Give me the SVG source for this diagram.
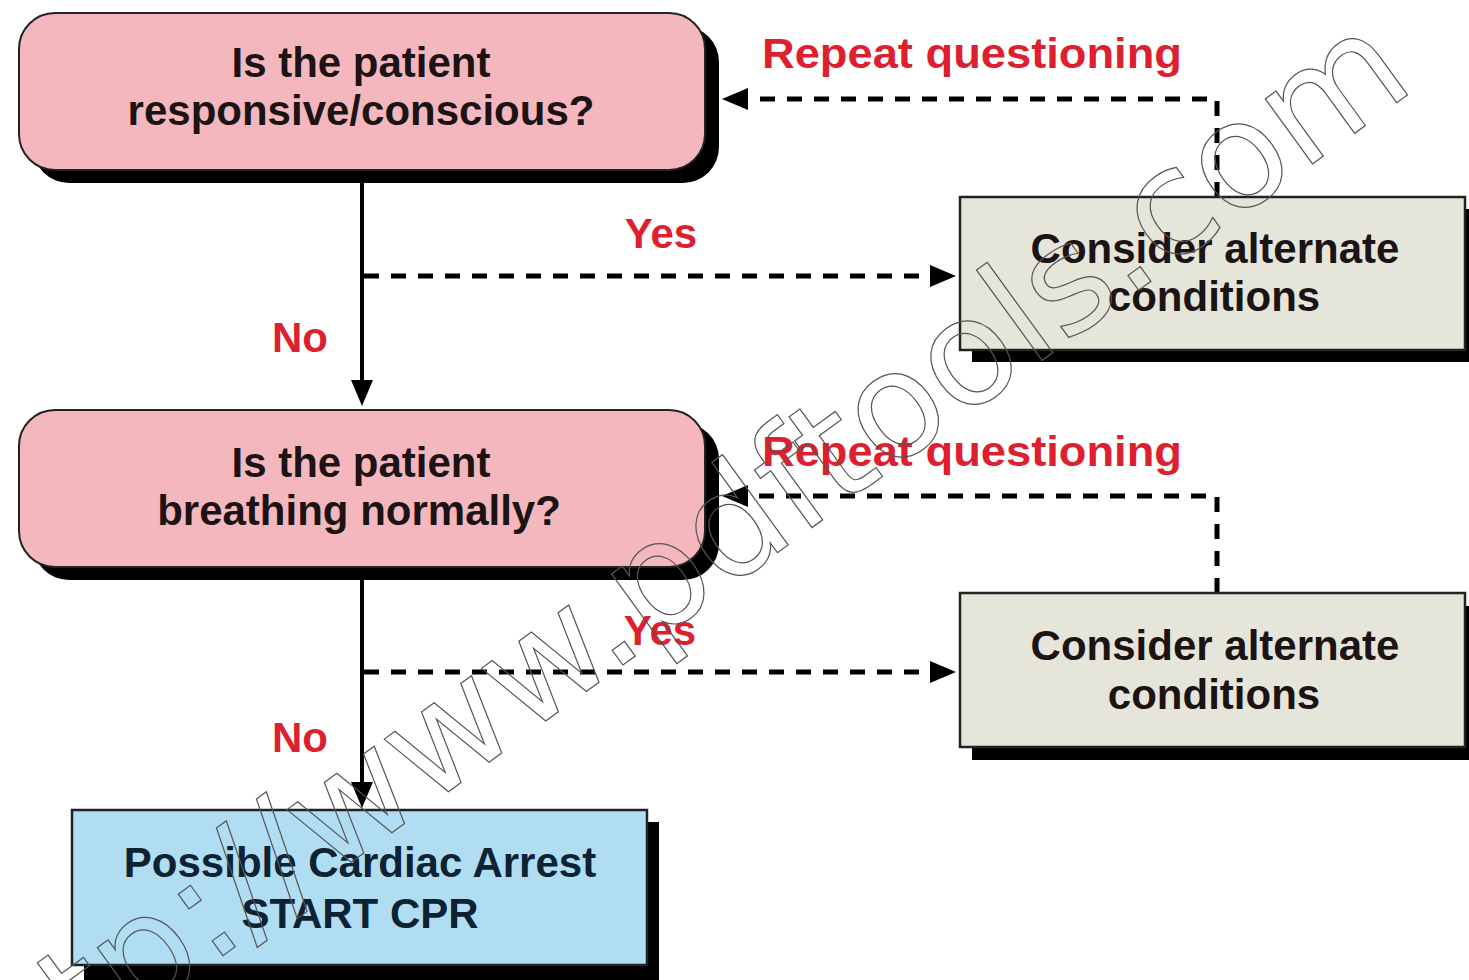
<svg xmlns="http://www.w3.org/2000/svg" width="1469" height="980" viewBox="0 0 1469 980">
<style>
.t{font-family:"Liberation Sans",Arial,sans-serif;font-weight:bold;font-size:42px;text-anchor:middle}
.dark{fill:#1c1414}
.navy{fill:#0d2233}
.red{fill:#de1f2f}
.shadow{fill:#000}
.pink{fill:#f4b7be;stroke:#222;stroke-width:2}
.gray{fill:#e5e5da;stroke:#222;stroke-width:2.5}
.blue{fill:#b0ddf2;stroke:#222;stroke-width:2.5}
.solid{fill:none;stroke:#000;stroke-width:4}
.dash{fill:none;stroke:#000;stroke-width:5;stroke-dasharray:15 12}
.wm{font-family:"DejaVu Sans",sans-serif;font-size:147px;fill:none;stroke:#555;stroke-width:1.2}
</style>
<defs>
<marker id="ah" viewBox="0 0 26 22" refX="0" refY="11" markerWidth="26" markerHeight="22" markerUnits="userSpaceOnUse" orient="auto">
<path d="M0,0 L26,11 L0,22 z" fill="#000"/>
</marker>
</defs>
<rect width="1469" height="980" fill="#fff"/>
<g id="connectors">
<path class="solid" d="M362,175 L362,380" marker-end="url(#ah)"/>
<path class="solid" d="M362,570 L362,782" marker-end="url(#ah)"/>
<path class="dash" d="M364,276 L930,276" marker-end="url(#ah)"/>
<path class="dash" d="M364,672 L930,672" marker-end="url(#ah)"/>
<path class="dash" d="M1217,197 L1217,99 L748,99" marker-end="url(#ah)"/>
<path class="dash" d="M1217,593 L1217,496 L748,496" marker-end="url(#ah)"/>
<text class="t red" x="972" y="68" textLength="420" lengthAdjust="spacingAndGlyphs">Repeat questioning</text>
<text class="t red" x="972" y="466" textLength="420" lengthAdjust="spacingAndGlyphs">Repeat questioning</text>
<text class="t red" x="661" y="248">Yes</text>
<text class="t red" x="660" y="645">Yes</text>
<text class="t red" x="300" y="352">No</text>
<text class="t red" x="300" y="752">No</text>
</g>
<g id="q1">
<rect class="shadow" x="33" y="26" width="686" height="157" rx="36"/>
<rect class="pink" x="19" y="13" width="686" height="157" rx="36"/>
<text class="t dark" x="361" y="77">Is the patient</text>
<text class="t dark" x="361" y="125">responsive/conscious?</text>
</g>
<g id="q2">
<rect class="shadow" x="33" y="423" width="686" height="157" rx="36"/>
<rect class="pink" x="19" y="410" width="686" height="157" rx="36"/>
<text class="t dark" x="361" y="477">Is the patient</text>
<text class="t dark" x="359" y="525">breathing normally?</text>
</g>
<g id="alt1">
<rect class="shadow" x="972" y="209" width="505" height="153"/>
<rect class="gray" x="960" y="197" width="505" height="153"/>
<text class="t dark" x="1215" y="263">Consider alternate</text>
<text class="t dark" x="1214" y="311">conditions</text>
</g>
<g id="alt2">
<rect class="shadow" x="972" y="606" width="505" height="154"/>
<rect class="gray" x="960" y="593" width="505" height="154"/>
<text class="t dark" x="1215" y="660">Consider alternate</text>
<text class="t dark" x="1214" y="709">conditions</text>
</g>
<g id="cpr">
<rect class="shadow" x="84" y="822" width="575" height="160"/>
<rect class="blue" x="72" y="810" width="575" height="155"/>
<text class="t navy" x="360" y="877">Possible Cardiac Arrest</text>
<text class="t navy" x="360" y="928">START CPR</text>
</g>
<g id="watermark">
<text class="wm" x="0" y="0" transform="translate(-35,1143) rotate(-36)">http://www.pdftools.com</text>
</g>
</svg>
